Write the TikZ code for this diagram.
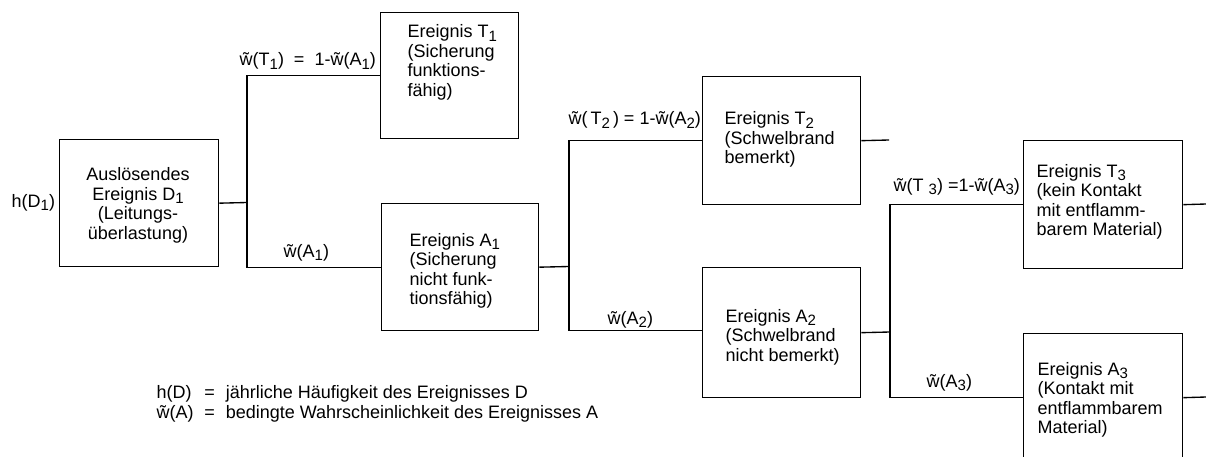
\documentclass[tikz,border=0pt]{standalone}
\usepackage{fontspec}
\setmainfont{Liberation Sans}
\newcommand\tw{\ooalign{w\cr\hidewidth\char"02DC\hidewidth\cr}}
\newcommand\sub[1]{\raisebox{-0.35ex}{\fontsize{15}{15}\selectfont #1}}
\begin{document}
\begin{tikzpicture}[x=1pt,y=-1pt,line width=1.35pt,
  evbox/.style={draw,rectangle,inner sep=0pt,anchor=north west},
  txt/.style={inner sep=0pt,font=\fontsize{18}{19.5}\selectfont,align=left,anchor=base west},
  lbl/.style={inner sep=0pt,font=\fontsize{18}{19.5}\selectfont,anchor=base west}]
\useasboundingbox (0,0) rectangle (1206,457);
\clip (0,0) rectangle (1206,457);
% boxes
\node[evbox,minimum width=159pt,minimum height=127pt] (D1) at (59,139) {};
\node[evbox,minimum width=138pt,minimum height=126pt] (T1) at (380,12) {};
\node[evbox,minimum width=157pt,minimum height=127pt] (A1) at (381,203) {};
\node[evbox,minimum width=158pt,minimum height=128pt] (T2) at (702,76) {};
\node[evbox,minimum width=158pt,minimum height=130pt] (A2) at (702,267) {};
\node[evbox,minimum width=159pt,minimum height=128pt] (T3) at (1023,140) {};
\node[evbox,minimum width=159pt,minimum height=128pt] (A3) at (1023,333) {};
% junctions
\coordinate (j1) at (247,202.5);
\coordinate (j2) at (569,266.5);
\coordinate (j3) at (890,332);
\coordinate (e2) at (889,140);
\coordinate (e3) at (1206,204);
\coordinate (e4) at (1206,397);
% connectors
\draw (D1.east) -- (j1);
\draw (T1.west) -| (j1) |- (A1.west);
\draw (A1.east) -- (j2);
\draw (T2.west) -| (j2) |- ([yshift=2pt]A2.west);
\draw (T2.east) -- (e2);
\draw (A2.east) -- (j3);
\draw (T3.west) -| (j3) |- (A3.west);
\draw (T3.east) -- (e3);
\draw (A3.east) -- (e4);
% box texts (anchored at the baseline of their last line)
\node[txt,anchor=base,align=center] (D1t) at (138,239.2) {Auslösendes\\Ereignis D\sub{1}\\(Leitungs-\\überlastung)};
\node[txt] (T1t) at (407,96.5) {Ereignis T\sub{1}\\(Sicherung\\funktions-\\fähig)};
\node[txt] (A1t) at (409,304.5) {Ereignis A\sub{1}\\(Sicherung\\nicht funk-\\tionsfähig)};
\node[txt] (T2t) at (724,164) {Ereignis T\sub{2}\\(Schwelbrand\\bemerkt)};
\node[txt] (A2t) at (725,361) {Ereignis A\sub{2}\\(Schwelbrand\\nicht bemerkt)};
\node[txt] (T3t) at (1036,235.5) {Ereignis T\sub{3}\\(kein Kontakt\\mit entflamm-\\barem Material)};
\node[txt] (A3t) at (1037,433.5) {Ereignis A\sub{3}\\(Kontakt mit\\entflammbarem\\Material)};
% branch labels
\node[lbl] (l1) at (239,66) {\tw(T\sub{1})\ \ =\ \ 1-\tw(A\sub{1})};
\node[lbl] (l2) at (283,257) {\tw(A\sub{1})};
\node[lbl] (l3) at (568,125) {\tw(\,T\sub{2}\,) = 1-\tw(A\sub{2})};
\node[lbl] (l4) at (607,324) {\tw(A\sub{2})};
\node[lbl] (l5) at (893,191) {\tw(T \sub{3}) =1-\tw(A\sub{3})};
\node[lbl] (l6) at (926,387) {\tw(A\sub{3})};
\node[lbl] (hD) at (11,207) {h(D\sub{1})};
% legend
\node[lbl,font=\fontsize{18}{20}\selectfont] (leg) at (156,398) {\begin{tabular}[t]{@{}l@{\hspace{0.6em}=\hspace{0.6em}}l@{}}h(D) & jährliche Häufigkeit des Ereignisses D\\\tw(A) & bedingte Wahrscheinlichkeit des Ereignisses A\end{tabular}};
\end{tikzpicture}
\end{document}
